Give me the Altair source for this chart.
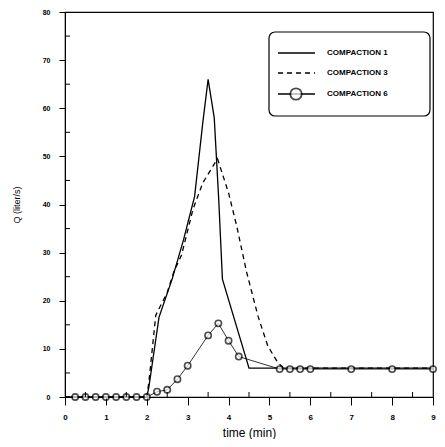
import altair as alt
import pandas as pd

# Compaction 1 (solid)
t1 = [0, 2.0, 2.05, 2.3, 2.62, 2.9, 3.17, 3.37, 3.5, 3.65, 3.76, 3.85, 4.5, 9.0]
q1 = [0, 0, 2, 16.6, 24.5, 32.7, 41.7, 57, 66, 58, 41, 24.5, 6, 6]
# Compaction 3 (dashed)
t3 = [0, 2.0, 2.05, 2.22, 2.5, 2.66, 2.85, 3.13, 3.37, 3.73, 4.0, 4.2, 4.44, 4.72, 4.96, 5.2, 5.35, 9.0]
q3 = [0, 0, 3, 17, 21.7, 26, 29.5, 39, 44.5, 49.5, 42.4, 35.5, 26, 16.8, 10.6, 7.2, 6, 6]
# Compaction 6 (circles)
t6 = [0.25, 0.5, 0.75, 1.0, 1.25, 1.5, 1.75, 2.0, 2.25, 2.5, 2.75, 3.0, 3.5, 3.75,
      4.0, 4.25, 5.25, 5.5, 5.75, 6.0, 7.0, 8.0, 9.0]
q6 = [0, 0, 0, 0, 0, 0, 0, 0, 1.1, 1.5, 3.7, 6.5, 12.8, 15.3,
      11.7, 8.4, 5.8, 5.8, 5.8, 5.8, 5.8, 5.8, 5.8]

x_major = list(range(0, 10))
y_major = list(range(0, 90, 10))
x_minor = [0.5 + i for i in range(9)]
y_minor = [5 + 10 * i for i in range(8)]

legend_labels = ["COMPACTION 1", "COMPACTION 3", "COMPACTION 6"]

W, H = 368, 385
FONT = "Liberation Sans"

xs = alt.Scale(domain=[0, 9], nice=False)
ys = alt.Scale(domain=[0, 80], nice=False)

xaxis = alt.Axis(values=x_major, title="time (min)", grid=False, tickSize=8,
                 tickColor="black", domainColor="black", labelFontSize=8,
                 labelFontWeight="bold", labelColor="black", labelPadding=8,
                 titleFontSize=12, titleFontWeight="normal", titleColor="black",
                 titlePadding=6, titleFont=FONT, labelFont=FONT, labelFlush=False)
yaxis = alt.Axis(values=y_major, title="Q (liter/s)", grid=False, tickSize=6,
                 tickColor="black", domainColor="black", labelFontSize=7,
                 labelFontWeight="bold", labelColor="black", labelPadding=9,
                 titleFontSize=9, titleFontWeight="normal", titleColor="black",
                 titlePadding=21, titleFont=FONT, labelFont=FONT)

d1 = pd.DataFrame({"t": t1, "q": q1})
d3 = pd.DataFrame({"t": t3, "q": q3})
d6 = pd.DataFrame({"t": t6, "q": q6})

l1 = alt.Chart(d1).mark_line(color="black", strokeWidth=1.3, clip=True).encode(
    x=alt.X("t:Q", scale=xs, axis=xaxis), y=alt.Y("q:Q", scale=ys, axis=yaxis))
l3 = alt.Chart(d3).mark_line(color="black", strokeWidth=1.3, strokeDash=[5, 4], clip=True).encode(
    x=alt.X("t:Q", scale=xs), y=alt.Y("q:Q", scale=ys))
l6 = alt.Chart(d6).mark_line(color="black", strokeWidth=0.8, clip=True).encode(
    x=alt.X("t:Q", scale=xs), y=alt.Y("q:Q", scale=ys))
p6 = alt.Chart(d6).mark_point(shape="circle", color="black", filled=False, fill="white",
                              size=40, strokeWidth=1.6).encode(
    x=alt.X("t:Q", scale=xs), y=alt.Y("q:Q", scale=ys))

mx = alt.Chart(pd.DataFrame({"v": x_minor})).mark_rule(color="black", strokeWidth=1).encode(
    x=alt.X("v:Q", scale=xs), y=alt.value(H), y2=alt.value(H - 5))
my = alt.Chart(pd.DataFrame({"v": y_minor})).mark_rule(color="black", strokeWidth=1).encode(
    y=alt.Y("v:Q", scale=ys), x=alt.value(0), x2=alt.value(5))

ld = pd.DataFrame({"label": legend_labels})
box = alt.Chart(ld.head(1)).mark_rect(fill="white", stroke="black", strokeWidth=1.2,
                                     cornerRadius=6).encode(
    x=alt.value(204), x2=alt.value(365), y=alt.value(20), y2=alt.value(104))

rows_y = [41, 61, 82]
leg_layers = [box]
dashes = [None, [5, 4], None]
for i, lab in enumerate(legend_labels):
    kw = dict(color="black", strokeWidth=1.3)
    if dashes[i]:
        kw["strokeDash"] = dashes[i]
    leg_layers.append(alt.Chart(ld.head(1)).mark_rule(**kw).encode(
        x=alt.value(213), x2=alt.value(250), y=alt.value(rows_y[i])))
    leg_layers.append(alt.Chart(ld.head(1)).mark_text(
        align="left", baseline="middle", fontSize=8, fontWeight="bold", font=FONT,
        color="black").encode(x=alt.value(262), y=alt.value(rows_y[i]), text=alt.value(lab)))
leg_layers.append(alt.Chart(ld.head(1)).mark_point(
    shape="circle", color="black", filled=False, fill="white", size=130, strokeWidth=1.8).encode(
    x=alt.value(231), y=alt.value(rows_y[2])))

chart = alt.layer(l1, l3, l6, p6, mx, my, *leg_layers).properties(
    width=W, height=H,
    background="white",
    autosize=alt.AutoSizeParams(type="none"),
    padding={"left": 57, "top": 4, "right": 4, "bottom": 42},
).configure_view(stroke="black", strokeWidth=1.2)

chart.save("out.html", embed_options={"renderer": "svg", "actions": False})
